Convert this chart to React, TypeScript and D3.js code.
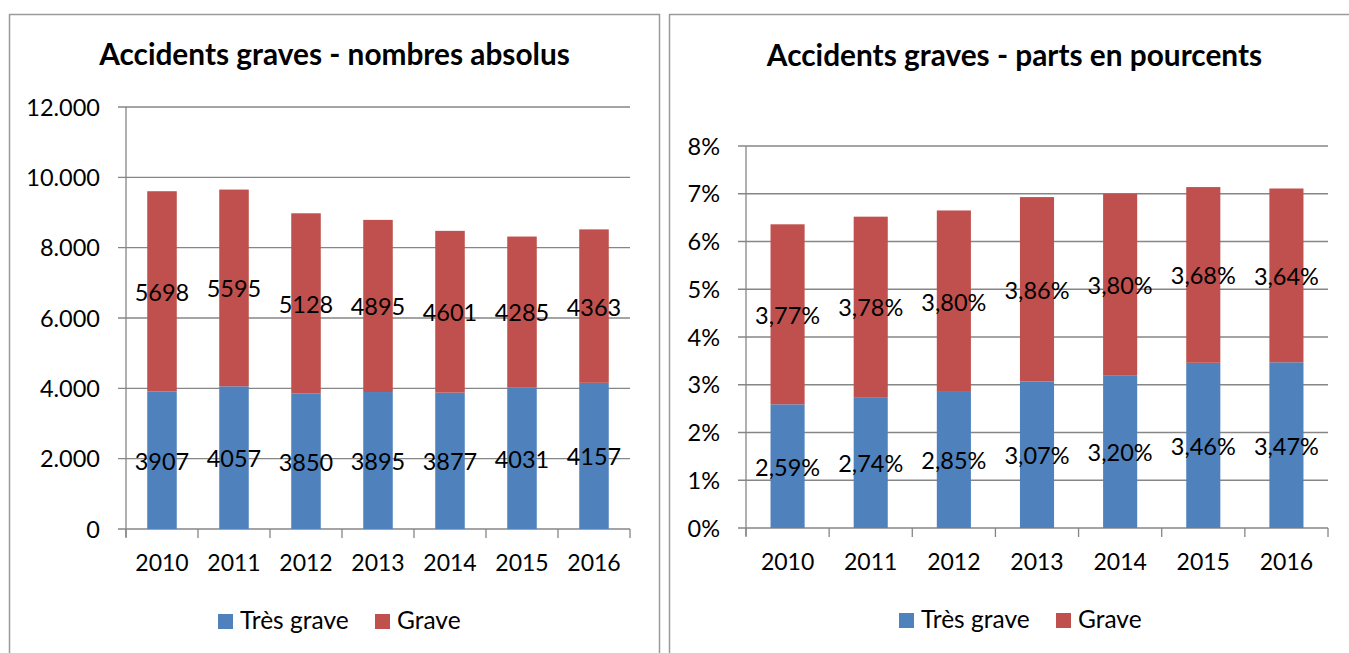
import React from 'react';
import * as d3 from 'd3';

// data
const years = ['2010', '2011', '2012', '2013', '2014', '2015', '2016'];
const tresGraveAbs = [3907, 4057, 3850, 3895, 3877, 4031, 4157];
const graveAbs = [5698, 5595, 5128, 4895, 4601, 4285, 4363];
const tresGravePct = [2.59, 2.74, 2.85, 3.07, 3.2, 3.46, 3.47];
const gravePct = [3.77, 3.78, 3.8, 3.86, 3.8, 3.68, 3.64];
const absTicks = [0, 2000, 4000, 6000, 8000, 10000, 12000];
const pctTicks = [0, 1, 2, 3, 4, 5, 6, 7, 8];
const seriesNames = ['Très grave', 'Grave'];
const seriesColors = ['#4F81BD', '#C0504D'];

const FONT = 'Lato, "Open Sans", sans-serif';
const locale = d3.formatLocale({ decimal: ',', thousands: '.', grouping: [3], currency: ['', ''] });
const fmtThousands = locale.format(',d');
const fmtInt = locale.format('d');
const fmtPct2 = (v: number) => locale.format('.2f')(v) + '%';
const fmtPct0 = (v: number) => v + '%';

type PanelProps = {
  box: { x: number; y: number; w: number; h: number };
  title: string;
  titleY: number;
  plot: { left: number; right: number; top: number; bottom: number };
  yMax: number;
  ticks: number[];
  tickFmt: (v: number) => string;
  labelFmt: (v: number) => string;
  lower: number[];
  upper: number[];
  legendX: number;
};

function StackedPanel(p: PanelProps) {
  const x = d3.scaleBand().domain(years).range([p.plot.left, p.plot.right]);
  const y = d3.scaleLinear().domain([0, p.yMax]).range([p.plot.bottom, p.plot.top]);
  const stack = d3.stack<any>().keys(['lower', 'upper']);
  const rows = years.map((yr, i) => ({ year: yr, lower: p.lower[i], upper: p.upper[i] }));
  const layers = stack(rows);
  const barW = x.bandwidth() * 0.41;
  const cx = p.box.x + p.box.w / 2;
  const bounds = years.map((yr) => x(yr)!).concat([p.plot.right]);

  return (
    <g>
      <rect x={p.box.x} y={p.box.y} width={p.box.w} height={p.box.h} fill="#fff" stroke="#9a9a9a" strokeWidth={1.5} />
      <text x={cx} y={p.titleY} textAnchor="middle" fontFamily={FONT} fontWeight={700} fontSize={29.8} fill="#000">
        {p.title}
      </text>
      {/* gridlines + y ticks */}
      {p.ticks.map((t) => (
        <g key={t}>
          <line x1={p.plot.left - 8} x2={p.plot.right} y1={y(t)} y2={y(t)} stroke="#868686" strokeWidth={1.3} />
          <text x={p.plot.left - 26} y={y(t) + 8.5} textAnchor="end" fontFamily={FONT} fontSize={23.5} fill="#000">
            {p.tickFmt(t)}
          </text>
        </g>
      ))}
      <line x1={p.plot.left} x2={p.plot.left} y1={p.plot.top} y2={p.plot.bottom + 8} stroke="#868686" strokeWidth={1.3} />
      {bounds.map((b, i) => (
        <line key={i} x1={b} x2={b} y1={p.plot.bottom} y2={p.plot.bottom + 9} stroke="#868686" strokeWidth={1.3} />
      ))}
      {years.map((yr) => (
        <text key={yr} x={x(yr)! + x.bandwidth() / 2} y={p.plot.bottom + 42} textAnchor="middle" fontFamily={FONT} fontSize={23} fill="#000">
          {yr}
        </text>
      ))}
      {/* bars */}
      {layers.map((layer, li) => (
        <g key={li} fill={seriesColors[li]}>
          {layer.map((d, i) => (
            <rect key={i} x={x(years[i])! + (x.bandwidth() - barW) / 2} y={y(d[1])} width={barW} height={y(d[0]) - y(d[1])} />
          ))}
        </g>
      ))}
      {layers.map((layer, li) => (
        <g key={'l' + li}>
          {layer.map((d, i) => (
            <text
              key={i}
              x={x(years[i])! + x.bandwidth() / 2}
              y={(y(d[0]) + y(d[1])) / 2 + 9.5}
              textAnchor="middle"
              fontFamily={FONT}
              fontSize={23.5}
              fill="#000"
            >
              {p.labelFmt(d[1] - d[0])}
            </text>
          ))}
        </g>
      ))}
      {/* legend */}
      {seriesNames.map((name, i) => (
        <g key={name} transform={`translate(${p.legendX + i * 157},0)`}>
          <rect x={0} y={p.plot.bottom + 85} width={15} height={15} fill={seriesColors[i]} />
          <text x={22} y={p.plot.bottom + 100} fontFamily={FONT} fontSize={24.5} fill="#000">
            {name}
          </text>
        </g>
      ))}
    </g>
  );
}

export default function App() {
  return (
    <svg width={1349} height={653} style={{ position: 'absolute', left: 0, top: 0, background: '#fff' }}>
      <StackedPanel
        box={{ x: 9.5, y: 14.5, w: 650, h: 700 }}
        title="Accidents graves - nombres absolus"
        titleY={65}
        plot={{ left: 126, right: 630, top: 107, bottom: 529 }}
        yMax={12000}
        ticks={absTicks}
        tickFmt={(v) => fmtThousands(v)}
        labelFmt={(v) => fmtInt(v)}
        lower={tresGraveAbs}
        upper={graveAbs}
        legendX={218}
      />
      <StackedPanel
        box={{ x: 669.5, y: 14.5, w: 690, h: 700 }}
        title="Accidents graves - parts en pourcents"
        titleY={66}
        plot={{ left: 746, right: 1328, top: 146, bottom: 528 }}
        yMax={8}
        ticks={pctTicks}
        tickFmt={fmtPct0}
        labelFmt={fmtPct2}
        lower={tresGravePct}
        upper={gravePct}
        legendX={899}
      />
    </svg>
  );
}
